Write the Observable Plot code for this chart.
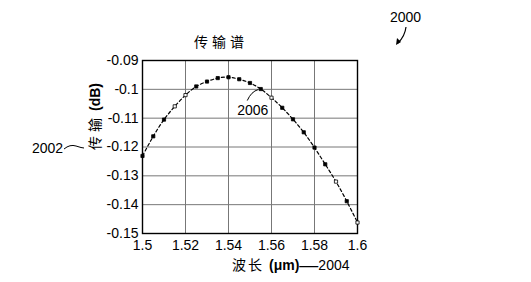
<!DOCTYPE html>
<html>
<head>
<meta charset="utf-8">
<script src="https://cdn.jsdelivr.net/npm/d3@7"></script>
<script src="https://cdn.jsdelivr.net/npm/@observablehq/plot@0.6"></script>
<style>
  html, body { margin: 0; padding: 0; background: #fff; }
  svg { display: block; }
</style>
</head>
<body>
<div id="chart"></div>
<script>
// Wavelength (μm) and transmission (dB)
const wavelength = [1.500, 1.505, 1.510, 1.515, 1.520, 1.525, 1.530, 1.535, 1.540, 1.545, 1.550,
                    1.555, 1.560, 1.565, 1.570, 1.575, 1.580, 1.585, 1.590, 1.595, 1.600];
const transmission = [-0.1231, -0.1163, -0.1105, -0.1059, -0.1020, -0.0990, -0.0973, -0.0961, -0.0958, -0.0965, -0.0978,
                      -0.0999, -0.1029, -0.1064, -0.1104, -0.1149, -0.1202, -0.1260, -0.1320, -0.1388, -0.1462];
const hollow = [false, false, false, true, true, false, false, false, false, false, false,
                false, true, false, false, false, false, false, true, false, true];
const xTicks = [1.5, 1.52, 1.54, 1.56, 1.58, 1.6];
const yTicks = [-0.15, -0.14, -0.13, -0.12, -0.11, -0.1, -0.09];
const titleText = "传输谱";
const xLabel = ["波长", "(μm)", "—", "2004"];
const yLabel = ["传输", "(dB)"];

const data = wavelength.map((w, i) => ({w, t: transmission[i], hollow: hollow[i]}));
const fmt = d => String(+d.toFixed(2));
const sans = "Liberation Sans, Arial, sans-serif";

const plot = Plot.plot({
  width: 531,
  height: 282,
  marginLeft: 142,
  marginRight: 174,
  marginTop: 60,
  marginBottom: 49,
  style: {fontFamily: sans, fontSize: "14px", color: "#000", background: "#fff"},
  x: {domain: [1.5, 1.6], label: null},
  y: {domain: [-0.15, -0.09], label: null},
  marks: [
    Plot.gridX(xTicks, {stroke: "#777", strokeOpacity: 1, strokeWidth: 1}),
    Plot.gridY(yTicks, {stroke: "#777", strokeOpacity: 1, strokeWidth: 1}),
    Plot.axisX(xTicks, {tickFormat: fmt, tickSize: 0, tickPadding: 7, fontSize: 14, label: null, fill: "#000"}),
    Plot.axisY(yTicks, {tickFormat: fmt, tickSize: 0, tickPadding: 4, fontSize: 14, label: null, fill: "#000"}),
    Plot.frame({stroke: "#000", strokeWidth: 1.4}),
    Plot.line(data, {x: "w", y: "t", curve: "natural", stroke: "#000", strokeWidth: 1.2, strokeDasharray: "3,2.5"}),
    Plot.dot(data, {x: "w", y: "t", symbol: "square", r: 1.8, fill: d => d.hollow ? "#fff" : "#000", stroke: "#000", strokeWidth: 0.8}),
    Plot.text(data.filter(d => d.w === 1.555), {x: "w", y: "t", text: () => "2006", dx: -8, dy: 21, fontSize: 14, fill: "#000"})
  ]
});

document.getElementById("chart").appendChild(plot);

const svg = d3.select(plot);
const sx = plot.scale("x"), sy = plot.scale("y");
const cjk = "Noto Sans CJK SC, sans-serif";

// Title
svg.append("text").attr("x", 194).attr("y", 47).attr("text-anchor", "start")
  .attr("font-family", cjk).attr("font-size", 14).attr("letter-spacing", 4).text(titleText);

// Y label (rotated)
const yl = svg.append("text").attr("transform", "translate(100,83) rotate(-90)")
  .attr("text-anchor", "end").attr("font-size", 14);
yl.append("tspan").attr("font-family", cjk).attr("letter-spacing", 4).text(yLabel[0]);
yl.append("tspan").attr("font-weight", "bold").attr("dx", 3).text(yLabel[1]);

// X label
const xl = svg.append("text").attr("x", 232).attr("y", 270).attr("text-anchor", "start").attr("font-size", 14);
xl.append("tspan").attr("font-family", cjk).attr("letter-spacing", 2).text(xLabel[0]);
xl.append("tspan").attr("font-weight", "bold").attr("dx", 5).text(xLabel[1]);
xl.append("tspan").attr("font-size", 19).attr("dy", 1).text(xLabel[2]);
xl.append("tspan").attr("dy", -1).text(xLabel[3]);

// 2002 annotation
svg.append("text").attr("x", 32).attr("y", 153).attr("text-anchor", "start").attr("font-size", 14).text("2002");
svg.append("path").attr("d", "M64,149 Q70,144 76,146 T84,148").attr("fill", "none").attr("stroke", "#000").attr("stroke-width", 1);

// 2006 leader
const px = sx.apply(1.555), py = sy.apply(-0.0999);
svg.append("path").attr("d", `M${px - 13},${py + 12} Q${px - 9},${py + 3} ${px - 2},${py + 1}`)
  .attr("fill", "none").attr("stroke", "#000").attr("stroke-width", 1);

// 2000 annotation
svg.append("text").attr("x", 390).attr("y", 22).attr("text-anchor", "start").attr("font-size", 14).text("2000");
svg.append("path").attr("d", "M406,27 Q405,36 398,43").attr("fill", "none").attr("stroke", "#000").attr("stroke-width", 1.2);
svg.append("path").attr("d", "M396,45 L397,38 L401,42 Z").attr("fill", "#000");
</script>
</body>
</html>
